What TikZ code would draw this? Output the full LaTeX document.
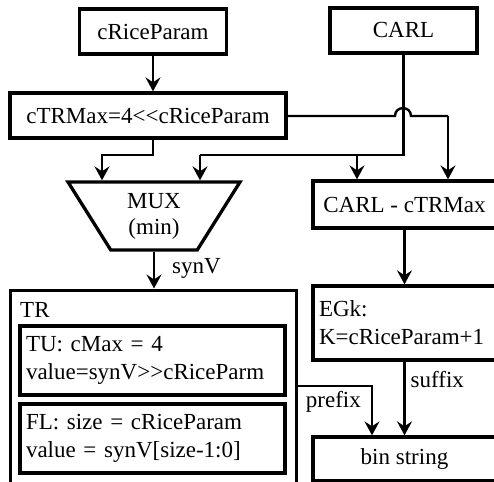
\documentclass[tikz,border=0pt]{standalone}
\usepackage{fontspec}
\setmainfont{Liberation Serif}
\usetikzlibrary{arrows.meta,shapes.geometric,calc}

\tikzset{
  box/.style={draw, line width=3.3pt, rectangle, inner sep=0pt, font=\fontsize{23}{28}\selectfont},
  conn/.style={line width=2.4pt, -{Stealth[length=14pt,width=15pt,inset=5pt]}},
  plain/.style={line width=2.4pt},
  lbl/.style={font=\fontsize{23}{28}\selectfont, inner sep=0pt},
}

\begin{document}
\begin{tikzpicture}[x=1pt,y=-1pt]
  \useasboundingbox (0,0) rectangle (494,481);
  \clip (0,0) rectangle (494,481);

  % inputs
  \node[box, minimum width=147, minimum height=45] (rice) at (153,31.5) {cRiceParam};
  \node[box, minimum width=147, minimum height=45] (carl) at (403.5,30.5) {CARL};

  % shift computation
  \node[box, minimum width=276, minimum height=45] (trmax) at (148,115.5) {cTRMax=4{<}{<}cRiceParam};

  % selector
  \node[draw, line width=3.3pt, trapezium, trapezium angle=60, trapezium stretches=true,
        shape border rotate=180, minimum width=172, minimum height=68, inner sep=0pt,
        align=center, font=\fontsize{23}{26}\selectfont] (mux) at (154,216) {MUX\\(min)};

  % truncated rice binarisation
  \node[box, line width=3pt, minimum width=286, minimum height=240] (tr) at (153,410) {};
  \node[lbl, anchor=base west] (trlabel) at (20,317) {TR};
  \node[box, minimum width=265, minimum height=69, align=left, text width=253, inner xsep=6pt] (tu) at (152.5,360.5)
    {TU: cMax = 4\\value=synV{>}{>}cRiceParm};
  \node[box, minimum width=265, minimum height=69, align=left, text width=253, inner xsep=6pt] (fl) at (152.5,438.5)
    {FL: size = cRiceParam\\value = synV[size-1:0]};

  % right-hand chain
  \node[box, minimum width=183, minimum height=47] (cm) at (404.5,204.5) {CARL - cTRMax};
  \node[box, minimum width=183, minimum height=74, align=left, text width=171, inner xsep=6pt] (egk) at (404.5,323)
    {EGk:\\K=cRiceParam+1};
  \node[box, minimum width=183, minimum height=44] (bin) at (404.5,459) {bin string};

  % junction points
  \coordinate (jl) at (102,155);
  \coordinate (jr) at (200,155);
  \coordinate (jc) at (357,155);
  \coordinate (ja) at (395,116);
  \coordinate (jb) at (411,116);
  \coordinate (jd) at (448,116);
  \coordinate (jp) at (372,386);

  % connectors
  \draw[conn] (rice.south) -- (rice.south |- trmax.north);
  \draw[conn] (rice.south |- trmax.south) |- (jl) -- (jl |- mux.north);
  \draw[plain] (carl.south) -- (carl.south |- jr) -- (jr);
  \draw[conn] (jr) -- (jr |- mux.north);
  \draw[conn] (jc) -- (jc |- cm.north);
  \draw[plain] (trmax.east |- ja) -- (ja) .. controls ($(ja)+(0,-10.5)$) and ($(jb)+(0,-10.5)$) .. (jb) -- (jd);
  \draw[conn] (jd) -- (jd |- cm.north);
  \draw[conn] (mux.south) -- (mux.south |- tr.north)
    node[lbl, pos=0.45, anchor=west, xshift=17pt] {synV};
  \draw[conn] (cm.south) -- (egk.north);
  \draw[conn] (egk.south) -- (bin.north)
    node[lbl, pos=0.24, anchor=west, xshift=5pt] {suffix};
  \draw[conn] (tr.east |- jp) -| (jp |- bin.north);
  \node[lbl, anchor=north east] (pfx) at ($(jp)+(-11,5)$) {prefix};
\end{tikzpicture}
\end{document}
